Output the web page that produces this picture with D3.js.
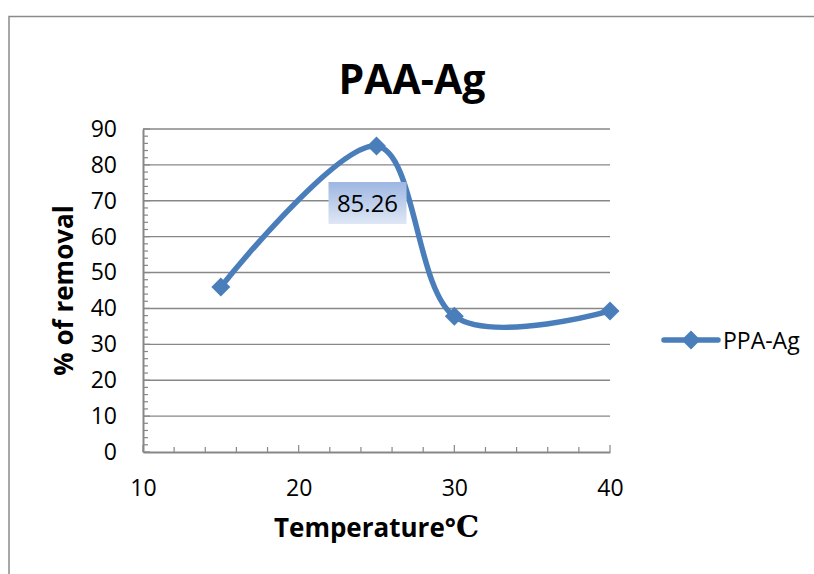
<!DOCTYPE html>
<html>
<head>
<meta charset="utf-8">
<script src="https://cdn.jsdelivr.net/npm/d3@7"></script>
<style>
  body { margin: 0; background: #fff; }
  text { font-family: "Open Sans", "Noto Sans", sans-serif; fill: #000; }
</style>
</head>
<body>
<svg id="chart" width="814" height="574"></svg>
<script>
// data
var temps = [15, 25, 30, 40];
var removal = [46.0, 85.26, 37.8, 39.3];
var seriesName = "PPA-Ag";
var xTicks = [10, 20, 30, 40];
var yTicks = [0, 10, 20, 30, 40, 50, 60, 70, 80, 90];
var labelIndex = 1; // only the peak is labelled

var blue = "#4a7ebb";
var grey = "#878787";

var svg = d3.select("#chart");

var plot = {left: 143, right: 610, top: 129, bottom: 452};

var xScale = d3.scaleLinear().domain([10, 40]).range([plot.left, plot.right]);
var yScale = d3.scaleLinear().domain([0, 90]).range([plot.bottom, plot.top]);

// outer chart border (runs off the right and bottom of the picture)
svg.append("rect")
    .attr("x", 9)
    .attr("y", 16.5)
    .attr("width", 900)
    .attr("height", 700)
    .style("fill", "none")
    .style("stroke", "#8a8a8a")
    .style("stroke-width", 1.5);

// title
svg.append("text")
    .attr("x", 412)
    .attr("y", 94)
    .attr("text-anchor", "middle")
    .style("font-size", "41px")
    .style("font-weight", "bold")
    .text("PAA-Ag");

// horizontal gridlines
svg.append("g").selectAll("line")
    .data(yTicks.filter(function (d) { return d > 0; }))
    .enter().append("line")
    .attr("x1", plot.left)
    .attr("x2", plot.right)
    .attr("y1", function (d) { return yScale(d); })
    .attr("y2", function (d) { return yScale(d); })
    .style("stroke", grey)
    .style("stroke-width", 1.4);

// minor ticks every 2 units, drawn inside the plot
var minor = d3.range(0, 91, 2);
svg.append("g").selectAll("line")
    .data(minor)
    .enter().append("line")
    .attr("x1", plot.left)
    .attr("x2", function (d) { return plot.left + (d % 10 === 0 ? 7 : 5); })
    .attr("y1", function (d) { return yScale(d); })
    .attr("y2", function (d) { return yScale(d); })
    .style("stroke", grey)
    .style("stroke-width", 1.2);

var minorX = d3.range(10, 41, 2);
svg.append("g").selectAll("line")
    .data(minorX)
    .enter().append("line")
    .attr("x1", function (d) { return xScale(d); })
    .attr("x2", function (d) { return xScale(d); })
    .attr("y1", plot.bottom)
    .attr("y2", function (d) { return plot.bottom - (d % 10 === 0 ? 7 : 5); })
    .style("stroke", grey)
    .style("stroke-width", 1.2);

// axes lines
var yAxis = d3.axisLeft(yScale).tickValues(yTicks).tickSize(0).tickPadding(26);
var gy = svg.append("g")
    .attr("transform", "translate(" + plot.left + ",0)")
    .call(yAxis);
var xAxis = d3.axisBottom(xScale).tickValues(xTicks).tickSize(0).tickPadding(28);
var gx = svg.append("g")
    .attr("transform", "translate(0," + plot.bottom + ")")
    .call(xAxis);

[gx, gy].forEach(function (g) {
    g.select(".domain").style("stroke", grey).style("stroke-width", 2);
    g.selectAll("text")
        .style("font-family", "'Open Sans', sans-serif")
        .style("font-size", "23px")
        .style("fill", "#000");
});

// axis titles
svg.append("text")
    .attr("transform", "translate(73," + ((plot.top + plot.bottom) / 2) + ") rotate(-90)")
    .attr("text-anchor", "middle")
    .style("font-size", "26px")
    .style("font-weight", "bold")
    .text("% of removal");

var xt = svg.append("text")
    .attr("x", (plot.left + plot.right) / 2)
    .attr("y", 537)
    .attr("text-anchor", "middle")
    .style("font-size", "26px")
    .style("font-weight", "bold");
xt.append("tspan").text("Temperature°");
xt.append("tspan")
    .style("font-family", "'DejaVu Serif', 'Liberation Serif', serif")
    .style("font-weight", "bold")
    .style("font-size", "29px")
    .text("C");

// series
var points = temps.map(function (t, i) { return {x: t, y: removal[i]}; });

var line = d3.line()
    .x(function (d) { return xScale(d.x); })
    .y(function (d) { return yScale(d.y); })
    .curve(d3.curveCardinal.tension(0));

svg.append("path")
    .attr("d", line(points))
    .style("fill", "none")
    .style("stroke", blue)
    .style("stroke-width", 5.5)
    .style("stroke-linejoin", "round");

var diamond = d3.symbol().type(d3.symbolDiamond2).size(230);

svg.append("g").selectAll("path")
    .data(points)
    .enter().append("path")
    .attr("transform", function (d) {
        return "translate(" + xScale(d.x) + "," + yScale(d.y) + ")";
    })
    .attr("d", diamond)
    .style("fill", blue);

// data label with gradient box
var grad = svg.append("defs").append("linearGradient")
    .attr("id", "lblGrad")
    .attr("x1", 0).attr("y1", 0).attr("x2", 0).attr("y2", 1);
grad.append("stop").attr("offset", "0%").attr("stop-color", "#9db6e2");
grad.append("stop").attr("offset", "100%").attr("stop-color", "#dfe7f5");

var lp = points[labelIndex];
var lx = xScale(lp.x) - 9;
var ly = yScale(lp.y) + 57;
svg.append("rect")
    .attr("x", lx - 39)
    .attr("y", ly - 21)
    .attr("width", 78)
    .attr("height", 42)
    .style("fill", "url(#lblGrad)");
svg.append("text")
    .attr("x", lx)
    .attr("y", ly + 8.5)
    .attr("text-anchor", "middle")
    .style("font-size", "24px")
    .text(d3.format(".2f")(lp.y));

// legend
var leg = svg.append("g").attr("transform", "translate(664,340)");
leg.append("line")
    .attr("x1", 0).attr("x2", 54)
    .attr("y1", 0).attr("y2", 0)
    .style("stroke", blue)
    .style("stroke-width", 5.5)
    .style("stroke-linecap", "round");
leg.append("path")
    .attr("transform", "translate(27,0)")
    .attr("d", diamond)
    .style("fill", blue);
leg.append("text")
    .attr("x", 59)
    .attr("y", 8.5)
    .style("font-size", "23px")
    .text(seriesName);
</script>
</body>
</html>
